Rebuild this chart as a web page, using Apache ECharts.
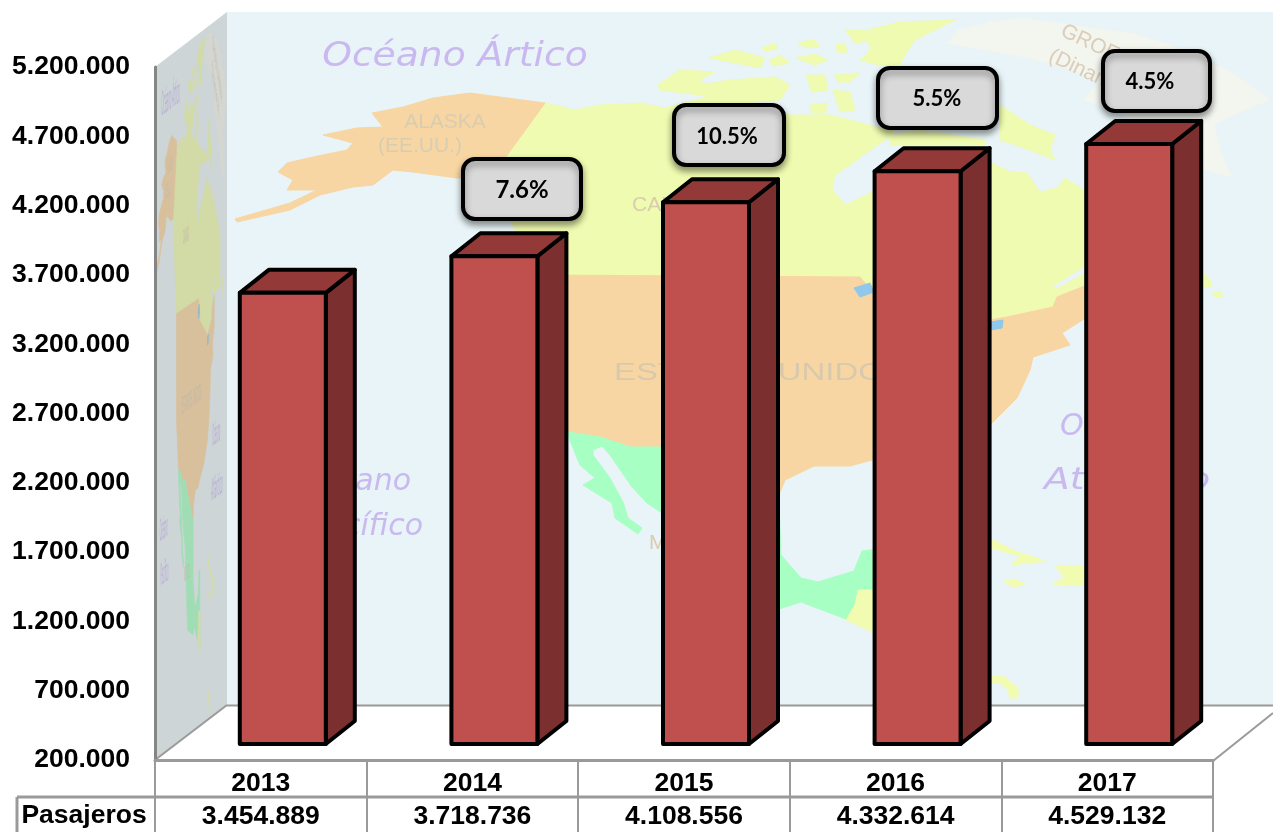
<!DOCTYPE html>
<html>
<head>
<meta charset="utf-8">
<style>html,body{margin:0;padding:0;background:#fff}#c{width:1273px;height:832px}</style>
<script src="https://cdn.jsdelivr.net/npm/echarts@6/dist/echarts.min.js"></script>
</head>
<body>
<div id="c"></div>
<script>
// ---------- data ----------
const years = ['2013', '2014', '2015', '2016', '2017'];
const passengers = [3454889, 3718736, 4108556, 4332614, 4529132];
const growthLabels = [null, '7.6%', '10.5%', '5.5%', '4.5%'];
const yTickValues = [200000, 700000, 1200000, 1700000, 2200000, 2700000, 3200000, 3700000, 4200000, 4700000, 5200000];
const rowTitle = 'Pasajeros';

// ---------- layout ----------
const callouts = [null,
  {x: 463, y: 159, w: 118, h: 60, tx: 522, ty: 190, size: 24},
  {x: 674, y: 105, w: 110, h: 60, tx: 727, ty: 137, size: 22},
  {x: 878, y: 68, w: 119, h: 60, tx: 937, ty: 99, size: 22},
  {x: 1103, y: 51, w: 107, h: 60, tx: 1150, ty: 82, size: 22}
];
const FRONT_SHIFT = -16, BAR_X = 22, BAR_W = 86, DEPTH_X = 29, DEPTH_Y = 23;

const fmt = v => String(v).replace(/\B(?=(\d{3})+(?!\d))/g, '.');

// ---------- decorative wall map (drawn in back-wall pixels) ----------
const C = {sea:'#e8f4f7', usa:'#f8d6a4', can:'#effbb0', mex:'#a8ffc4', gre:'#f3f5ef', lake:'#8fc8ea', cam:'#f2fcb0', txt:'#c9b9f0', lab:'#d9cdb0', gtx:'#dbcdb8'};
const shapes = [
  [C.gre, [[947,43],[959,30],[990,22],[1024,18],[1084,27],[1130,33],[1165,43],[1200,58],[1233,73],[1270,100],[1237,113],[1215,125],[1217,137],[1220,150],[1232,177],[1205,170],[1180,160],[1150,135],[1120,112],[1084,100],[1100,80],[1064,67],[1023,57]]],
  [C.can, [[487,157],[545,103],[575,110],[600,105],[640,103],[665,108],[695,100],[720,95],[745,100],[790,115],[830,115],[850,120],[880,128],[895,130],[885,140],[870,150],[850,165],[835,175],[832,190],[846,205],[876,190],[990,162],[1010,172],[1027,173],[1040,192],[1057,188],[1065,178],[1087,192],[1172,230],[1172,280],[1087,285],[1057,297],[1053,307],[1007,317],[990,320],[880,300],[860,277],[537,275],[510,220]]],
  [C.sea, [[1053,287],[1085,267],[1085,272],[1057,288]]],
  [C.can, [[658,85],[680,70],[715,72],[700,80],[715,90],[720,100],[700,95],[660,90]]],
  [C.can, [[700,85],[730,80],[775,77],[790,85],[780,100],[740,103],[705,95]]],
  [C.can, [[709,58],[735,50],[765,58],[760,68],[730,62]]],
  [C.can, [[761,48],[775,43],[778,48],[765,52]]],
  [C.can, [[770,60],[780,55],[790,63],[772,66]]],
  [C.can, [[798,42],[815,40],[820,47],[805,48]]],
  [C.can, [[795,58],[815,54],[828,60],[815,65]]],
  [C.can, [[835,45],[845,43],[847,52],[838,53]]],
  [C.can, [[845,30],[865,30],[875,40],[855,43]]],
  [C.can, [[867,30],[900,22],[955,20],[935,30],[915,40],[905,55],[900,65],[878,65],[860,60],[870,50]]],
  [C.can, [[806,75],[825,75],[828,90],[812,92]]],
  [C.can, [[835,75],[860,73],[850,82],[838,82]]],
  [C.can, [[833,90],[850,92],[855,110],[840,112]]],
  [C.can, [[810,105],[828,103],[825,113],[812,113]]],
  [C.can, [[1000,105],[1030,125],[1055,135],[1050,150],[1055,160],[1030,150],[1000,140]]],
  [C.can, [[890,135],[920,130],[985,140],[985,145],[950,145],[890,145]]],
  [C.can, [[1203,273],[1210,280],[1212,287],[1203,287]]],
  [C.can, [[1213,292],[1222,292],[1222,297],[1215,297]]],
  [C.usa, [[545,103],[507,98],[470,93],[433,98],[403,107],[372,113],[383,127],[357,128],[323,135],[353,143],[347,150],[313,157],[287,163],[278,172],[293,180],[287,190],[317,190],[290,203],[235,219],[237,222],[290,210],[320,195],[353,187],[373,185],[393,170],[413,172],[457,178],[487,178],[500,165]]],
  [C.usa, [[537,275],[860,277],[880,300],[990,320],[1007,317],[1053,307],[1057,297],[1087,285],[1087,317],[1062,333],[1070,345],[1033,357],[1030,370],[1017,398],[991,424],[940,445],[872,460],[850,466],[814,466],[785,480],[779,495],[662,447],[630,447],[600,437],[568,432],[537,380]]],
  [C.lake, [[854,288],[870,283],[874,292],[860,297]]],
  [C.lake, [[990,322],[1003,320],[1002,328],[990,330]]],
  [C.mex, [[568,432],[600,437],[630,447],[662,447],[779,495],[779,503],[781,555],[801,578],[818,582],[854,571],[862,551],[880,549],[880,625],[846,619],[801,602],[779,609],[700,600],[665,515],[647,503],[632,487],[610,455],[602,446],[593,450],[593,455],[610,478],[623,502],[628,518],[642,528],[638,534],[615,518],[612,503],[583,485],[595,478],[580,465],[569,438]]],
  [C.cam, [[858,590],[880,590],[880,635],[846,620],[855,605]]],
  [C.cam, [[991,539],[1015,551],[1046,561],[1011,565],[1020,556],[991,548]]],
  [C.cam, [[1003,581],[1014,579],[1025,584],[1014,587]]],
  [C.cam, [[1055,566],[1084,566],[1084,585],[1052,584],[1065,577]]],
  [C.cam, [[991,675],[1005,677],[1018,688],[1018,698],[1010,698],[1008,690],[1000,683],[991,683]]]
];
const hand = 'italic 30px "DejaVu Sans"', sans = '21px "Liberation Sans"';
const mapTexts = [
  {t:'Océano Ártico', x:455, y:57, font:'italic 33px "DejaVu Sans"', fill:C.txt, align:'center', sx:1.14},
  {t:'ALASKA', x:445, y:122, font:sans, fill:C.lab, align:'center'},
  {t:'(EE.UU.)', x:420, y:146, font:sans, fill:C.lab, align:'center'},
  {t:'CANADÁ', x:632, y:205, font:sans, fill:C.lab, align:'left'},
  {t:'ESTADOS UNIDOS', x:614, y:373, font:'24px "Liberation Sans"', fill:'#d8c9ad', align:'left', sx:1.37},
  {t:'MÉXICO', x:649, y:543, font:sans, fill:C.lab, align:'left'},
  {t:'Océano', x:411, y:482, font:hand, fill:C.txt, align:'right'},
  {t:'Pacífico', x:423, y:527, font:hand, fill:C.txt, align:'right'},
  {t:'Océano', x:1060, y:427, font:hand, fill:C.txt, align:'left'},
  {t:'Atlántico', x:1044, y:481, font:hand, fill:C.txt, align:'left', sx:1.25},
  {t:'GROENLANDIA', x:1062, y:30, font:sans, fill:C.gtx, align:'left', rot:-0.44},
  {t:'(Dinamarca)', x:1050, y:55, font:sans, fill:C.gtx, align:'left', rot:-0.44}
];
function mapChildren() {
  const out = shapes.map(s => ({
    type: 'polygon', silent: true,
    shape: {points: s[1].map(p => [p[0] - 227, p[1]])},
    style: {fill: s[0], stroke: s[0], lineWidth: 1, lineJoin: 'round'}
  }));
  mapTexts.forEach(m => out.push({
    type: 'text', silent: true, x: m.x - 227, y: m.y, rotation: m.rot || 0, scaleX: m.sx || 1,
    style: {text: m.t, font: m.font, fill: m.fill, textAlign: m.align, textVerticalAlign: 'middle'}
  }));
  return out;
}
// side wall: the same map through the wall's affine shear, expressed as rotate-scale-rotate
function sideWallGroup() {
  const a = 72 / 1046, b = 0, c = -55 / 1046, d = 1;
  const E = (a + d) / 2, F = (a - d) / 2, G = (c + b) / 2, H = (c - b) / 2;
  const Q = Math.hypot(E, H), R = Math.hypot(F, G);
  const a1 = Math.atan2(G, F), a2 = Math.atan2(H, E);
  const theta = (a2 - a1) / 2, phi = (a2 + a1) / 2;
  return {type:'group', x:155, y:67 - 12, rotation:-phi, scaleX:Q + R, scaleY:Q - R,
    children:[{type:'group', rotation:-theta, children: mapChildren()}]};
}
const GRAY = '#9a9a9a';
const gLine = (x1, y1, x2, y2, w) => ({type: 'line', silent: true, shape: {x1, y1, x2, y2}, style: {stroke: GRAY, lineWidth: w || 2}});

const wallElements = [
  {type:'polygon', silent:true, shape:{points:[[227,12],[1273,12],[1273,705],[227,705]]}, style:{fill:C.sea}},
  {type:'group', x:227, y:0, children: mapChildren()},
  {type:'polygon', silent:true, shape:{points:[[155,67],[227,12],[227,705],[155,760]]}, style:{fill:C.sea}},
  sideWallGroup(),
  {type:'polygon', silent:true, shape:{points:[[155,67],[227,12],[227,705],[155,760]]}, style:{fill:'rgba(142,141,144,0.3)'}},
  gLine(227,705.5,1273,705.5,2),
  gLine(155,760,227,705,2),
  gLine(1213,761,1273,713,2),
  gLine(17,797,1213,797,3),
  gLine(17,797,17,832,3),
  {type:'text', silent:true, x:84, y:815.5, style:{text:rowTitle, font:'bold 26.5px "Liberation Sans"', fill:'#000', textAlign:'center', textVerticalAlign:'middle'}}
];

function renderBar(params, api) {
  const p = api.coord([api.value(0), api.value(1)]);
  const b = api.coord([api.value(0), yTickValues[0]]);
  const x0 = p[0] + BAR_X - BAR_W / 2, x1 = x0 + BAR_W;
  const top = p[1] + FRONT_SHIFT, bot = b[1] + FRONT_SHIFT;
  const edge = {stroke: '#000', lineWidth: 4, lineJoin: 'round'};
  return {type: 'group', children: [
    {type:'polygon', shape:{points:[[x1,top],[x1+DEPTH_X,top-DEPTH_Y],[x1+DEPTH_X,bot-DEPTH_Y],[x1,bot]]}, style:Object.assign({fill:'#7b2f2f'}, edge)},
    {type:'polygon', shape:{points:[[x0,top],[x0+DEPTH_X,top-DEPTH_Y],[x1+DEPTH_X,top-DEPTH_Y],[x1,top]]}, style:Object.assign({fill:'#933937'}, edge)},
    {type:'rect', shape:{x:x0,y:top,width:BAR_W,height:bot-top}, style:Object.assign({fill:'#c0504d'}, edge)}
  ]};
}
function renderCallout(params, api) {
  const i = api.value(0), label = growthLabels[i], c = callouts[i];
  if (!label) return null;
  return {type: 'group', children: [
    {type:'rect', shape:{x:c.x,y:c.y,width:c.w,height:c.h,r:12},
     style:{fill:'#d9d9d9', stroke:'#000', lineWidth:4, shadowBlur:7, shadowOffsetY:4, shadowColor:'rgba(0,0,0,0.4)'}},
    {type:'text', x:c.tx, y:c.ty, style:{text:label, font:'bold '+c.size+'px Lato', fill:'#000', textAlign:'center', textVerticalAlign:'middle'}}
  ]};
}

const chart = echarts.init(document.getElementById('c'), null, {renderer: 'canvas'});
chart.setOption({
  animation: false,
  backgroundColor: '#fff',
  graphic: {elements: wallElements},
  grid: {left: 155, top: 67, width: 1058, height: 693, containLabel: false, outerBoundsMode: 'none'},
  xAxis: {
    type: 'category', data: years,
    axisLine: {lineStyle: {color: GRAY, width: 3}},
    axisTick: {show: true, length: 72, lineStyle: {color: GRAY, width: 2}},
    axisLabel: {
      margin: 7, interval: 0, color: '#000', fontFamily: '"Liberation Sans"', fontWeight: 'bold', fontSize: 26.5, lineHeight: 33,
      formatter: (v, i) => v + '\n' + fmt(passengers[i])
    }
  },
  yAxis: {
    type: 'value', min: yTickValues[0], max: yTickValues[yTickValues.length - 1],
    splitLine: {show: false},
    axisLine: {show: true, lineStyle: {color: '#858585', width: 3}},
    axisTick: {show: false},
    axisLabel: {margin: 25, padding: [3, 0, 0, 0], color: '#000', fontFamily: '"Liberation Sans"', fontWeight: 'bold', fontSize: 26.5, customValues: yTickValues, formatter: v => fmt(v)}
  },
  series: [
    {type:'custom', z:3, silent:true, renderItem: renderBar, encode:{x:0,y:1}, data: years.map((y,i)=>[i, passengers[i]])},
    {type:'custom', z:4, silent:true, renderItem: renderCallout, encode:{x:0,y:1}, data: years.map((y,i)=>[i, passengers[i]])}
  ]
});
</script>
</body>
</html>
